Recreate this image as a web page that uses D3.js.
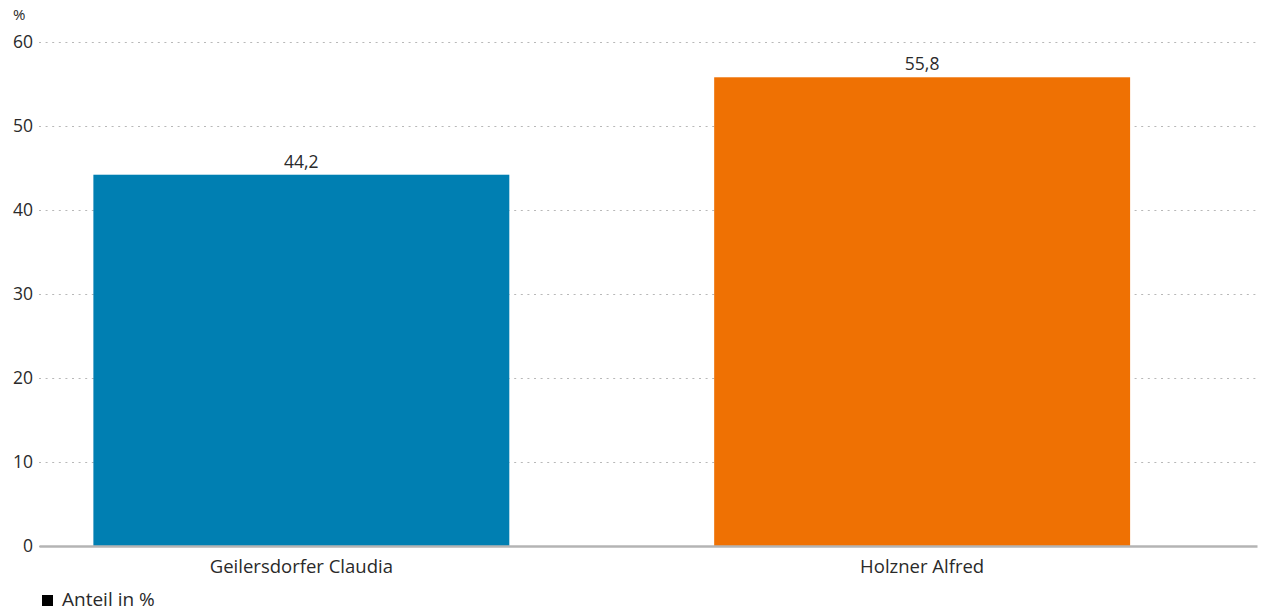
<!DOCTYPE html>
<html>
<head>
<meta charset="utf-8">
<script src="https://cdn.jsdelivr.net/npm/d3@7"></script>
<style>
  body { margin: 0; background: #fff; }
  svg text { font-family: "Open Sans", "Noto Sans", sans-serif; font-weight: 400; fill: #2a2a2a; }
</style>
</head>
<body>
<div id="chart"></div>
<script>
const categories = ['Geilersdorfer Claudia', 'Holzner Alfred'];
const values = [44.2, 55.8];
const valueLabels = ['44,2', '55,8'];
const colors = ['#007fb2', '#ef7103'];
const yTicks = [0, 10, 20, 30, 40, 50, 60];
const legendLabel = 'Anteil in %';

const width = 1261, height = 616;
const plotLeft = 39, plotRight = 1257, plotTop = 42, plotBottom = 546;

const svg = d3.select('#chart').append('svg')
  .attr('width', width)
  .attr('height', height);

const x = d3.scaleBand()
  .domain(categories)
  .range([plotLeft, plotRight])
  .paddingInner(0.33)
  .paddingOuter(0.146)
  .align(0.3);

const y = d3.scaleLinear()
  .domain([0, 60])
  .range([plotBottom, plotTop]);

// grid lines + y labels
const yAxis = svg.append('g')
  .attr('transform', `translate(${plotLeft},0)`)
  .call(d3.axisLeft(y).tickValues(yTicks).tickSize(-(plotRight - plotLeft)).tickPadding(6));
yAxis.select('.domain').remove();
yAxis.selectAll('.tick line')
  .attr('stroke', '#b8b8b8')
  .attr('stroke-width', 1)
  .attr('stroke-dasharray', '2,4.6');
yAxis.selectAll('.tick text')
  .style('font-size', '17.5px')
  .attr('fill', '#2a2a2a');

svg.append('text')
  .attr('x', 13)
  .attr('y', 20)
  .style('font-size', '15px')
  .text('%');

// bars
svg.selectAll('.bar')
  .data(values)
  .enter().append('rect')
  .attr('class', 'bar')
  .attr('x', (d, i) => x(categories[i]))
  .attr('y', d => y(d))
  .attr('width', x.bandwidth())
  .attr('height', d => y(0) - y(d))
  .attr('fill', (d, i) => colors[i]);

svg.selectAll('.val')
  .data(values)
  .enter().append('text')
  .attr('class', 'val')
  .attr('x', (d, i) => x(categories[i]) + x.bandwidth() / 2)
  .attr('y', d => y(d) - 7)
  .attr('text-anchor', 'middle')
  .style('font-size', '17.5px')
  .text((d, i) => valueLabels[i]);

// x axis
const xAxis = svg.append('g')
  .attr('transform', `translate(0,${plotBottom})`)
  .call(d3.axisBottom(x).tickSize(0).tickPadding(14));
xAxis.select('.domain')
  .attr('stroke', '#b4b4b4')
  .attr('stroke-width', 2.5);
xAxis.selectAll('.tick text')
  .style('font-size', '18.5px')
  .attr('fill', '#2a2a2a');

// legend
svg.append('rect')
  .attr('x', 42)
  .attr('y', 595)
  .attr('width', 11)
  .attr('height', 11)
  .attr('fill', '#000');
svg.append('text')
  .attr('x', 62)
  .attr('y', 606)
  .style('font-size', '19px')
  .text(legendLabel);
</script>
</body>
</html>
